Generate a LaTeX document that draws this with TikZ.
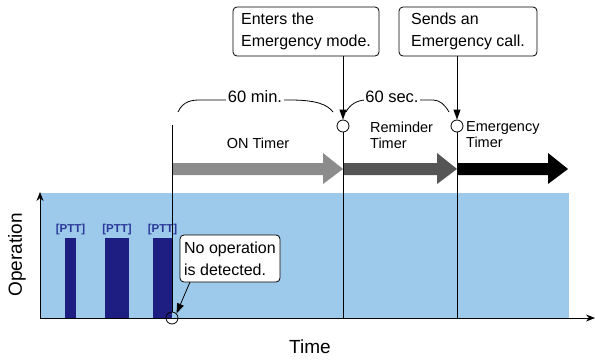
\documentclass[tikz,border=0pt]{standalone}
\usepackage{fontspec}
\setmainfont{Liberation Sans}
\usetikzlibrary{arrows.meta,positioning}
\definecolor{opBlue}{HTML}{9DC9EA}
\definecolor{pttNavy}{HTML}{1E1E82}
\definecolor{pttText}{HTML}{2B3A9A}
\definecolor{onGray}{HTML}{8C8C8C}
\definecolor{remGray}{HTML}{555555}
\tikzset{
  callout/.style={rectangle,draw=black,fill=white,rounded corners=4pt,thick,
    align=left,inner sep=4pt,font=\fontsize{16}{22}\selectfont},
  timerlabel/.style={align=left,inner sep=0pt,font=\fontsize{14.5}{16}\selectfont},
  ptttag/.style={text=pttText,inner sep=0pt,font=\fontsize{11.5}{12}\selectfont\bfseries},
  marker/.style={circle,draw=black,thick,fill=none,minimum size=12pt,inner sep=0pt},
  arrow/.style={-{Triangle[length=10pt,width=7pt]},thick},
  axis/.style={-{Stealth[length=9pt,width=7pt]},thick}
}
\newcommand{\timerbar}[3]{%
  \fill[#3] (#1,163) -- (#2-20,163) -- (#2-20,153) -- (#2,169)
    -- (#2-20,184) -- (#2-20,175) -- (#1,175) -- cycle;}

\begin{document}
\begin{tikzpicture}[x=1pt,y=-1pt]
  \useasboundingbox (0,0) rectangle (595,364);
  % operation area
  \fill[opBlue] (40,193) rectangle (569,318);
  \fill[pttNavy] (65,238) rectangle (76,318);
  \fill[pttNavy] (105,238) rectangle (129,318);
  \fill[pttNavy] (153,238) rectangle (172,318);
  \node[ptttag] (ptt1) at (70.5,230) {[PTT]};
  \node[ptttag] (ptt2) at (117,230) {[PTT]};
  \node[ptttag] (ptt3) at (162.5,230) {[PTT]};
  % axes
  \coordinate (origin) at (40,318);
  \coordinate (ytip) at (40,192);
  \coordinate (xtip) at (595,318);
  \draw[axis] (origin) -- (ytip);
  \draw[axis] (origin) -- (xtip);
  \node[rotate=90,font=\fontsize{19}{20}\selectfont] (ylab) at (17,255) {Operation};
  \node[font=\fontsize{19}{20}\selectfont] (xlab) at (310,347) {Time};
  % timers
  \timerbar{172}{343}{onGray}
  \timerbar{343}{457}{remGray}
  \timerbar{457}{568}{black}
  \node[timerlabel] (ontimer) at (258,143) {ON Timer};
  \node[timerlabel,anchor=west] (remtimer) at (370,135) {Reminder\\Timer};
  \node[timerlabel,anchor=west] (emtimer) at (466,135) {Emergency\\Timer};
  % events
  \node[marker] (noop) at (172,318) {};
  \node[marker] (enter) at (343,126) {};
  \node[marker] (send) at (457,126) {};
  \draw[thick] (172,125) -- (noop);
  \draw[thick] (enter) -- (343,318);
  \draw[thick] (send) -- (457,318);
  % braces
  \draw[thick] (178,112) .. controls (183,101) and (192,100) .. (200,100) -- (290,100)
    .. controls (315,100) and (327,104) .. (333,112);
  \node[fill=white,inner sep=2pt,font=\fontsize{16.5}{18}\selectfont] (min) at (255,97) {60 min.};
  \draw[thick] (346,112) .. controls (350,104) and (358,100) .. (366,100) -- (433,100)
    .. controls (440,100) and (445,105) .. (449,112);
  \node[fill=white,inner sep=1pt,font=\fontsize{16.5}{18}\selectfont] (sec) at (392,97) {60 sec.};
  % callouts
  \node[callout,minimum width=146pt,minimum height=49pt] (enterbox) at (306,31.5) {Enters the\\Emergency mode.};
  \node[callout,minimum width=138pt,minimum height=49pt] (sendbox) at (468,31.5) {Sends an\\Emergency call.};
  \node[callout,minimum width=100pt,minimum height=47pt,inner sep=3pt] (noopbox) at (230,258.5) {No operation\\is detected.};
  \draw[arrow] (enterbox.south -| enter) -- (enter.north);
  \draw[arrow] (sendbox.south -| send) -- (send.north);
  \draw[arrow] (190,282) -- (noop.north east);
\end{tikzpicture}
\end{document}
